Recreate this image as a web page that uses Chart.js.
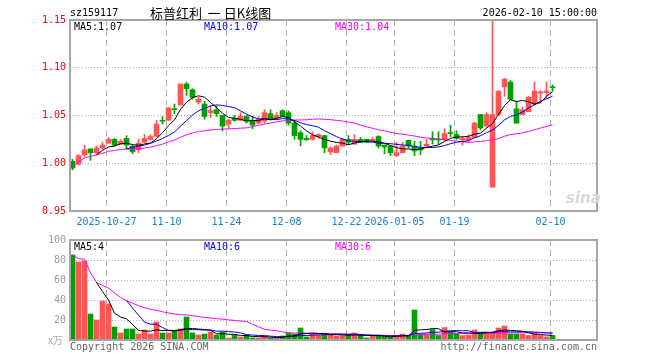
<!DOCTYPE html>
<html>
<head>
<meta charset="utf-8">
<script src="https://cdn.jsdelivr.net/npm/chart.js@4"></script>
<style>
  body { margin: 0; background: #fff; }
  #wrap { position: relative; width: 660px; height: 360px; overflow: hidden; }
  canvas { position: absolute; left: 0; top: 0; }
  .t { position: absolute; font: 10px "DejaVu Sans Mono", monospace; line-height: 12px; white-space: nowrap; }
</style>
</head>
<body>
<div id="wrap">
  <canvas id="kline" width="660" height="360"></canvas>
  <canvas id="vol" width="660" height="360"></canvas>
  <div class="t" style="left:70px;top:7px">sz159117</div>
  <div class="t" style="left:150px;top:5px;font:13px 'Noto Sans CJK SC';line-height:16px">标普红利&nbsp;&nbsp;一 日K线图</div>
  <div class="t" style="right:63px;top:7px">2026-02-10 15:00:00</div>
  <div class="t" style="left:74px;top:21px">MA5:1.07</div>
  <div class="t" style="left:204px;top:21px;color:#0000ff">MA10:1.07</div>
  <div class="t" style="left:335px;top:21px;color:#ff00ff">MA30:1.04</div>
  <div class="t" style="left:74px;top:241px">MA5:4</div>
  <div class="t" style="left:204px;top:241px;color:#0000ff">MA10:6</div>
  <div class="t" style="left:335px;top:241px;color:#ff00ff">MA30:6</div>
  <div class="t" style="left:48px;top:334px;color:#aaa;font-family:'Noto Sans CJK SC'">x万</div>
  <div class="t" style="left:70px;top:341px;color:#666">Copyright 2026 SINA.COM</div>
  <div class="t" style="right:63px;top:341px;color:#666">http://finance.sina.com.cn</div>
  <div class="t" style="left:566px;top:189px;color:#d8d8d8;font:italic bold 15px 'DejaVu Sans'">sina</div>
</div>
<script>
// daily bars, first bar = listing day
const opens  = [1.002,0.999,1.009,1.015,1.011,1.016,1.021,1.025,1.020,1.026,
                1.018,1.014,1.022,1.025,1.028,1.045,1.045,1.057,1.061,1.083,
                1.077,1.064,1.062,1.053,1.056,1.050,1.041,1.047,1.045,1.049,
                1.045,1.042,1.044,1.052,1.047,1.055,1.053,1.042,1.032,1.026,
                1.025,1.028,1.029,1.012,1.011,1.018,1.025,1.020,1.025,1.025,
                1.024,1.028,1.019,1.018,1.008,1.011,1.024,1.018,1.016,1.018,
                1.026,1.025,1.025,1.032,1.030,1.0245,1.0245,1.027,1.051,1.039,
                0.975,1.051,1.080,1.085,1.057,1.051,1.054,1.062,1.0734,1.074,
                1.080];
const highs  = [1.004,1.009,1.019,1.015,1.018,1.022,1.027,1.026,1.025,1.029,
                1.019,1.025,1.030,1.030,1.045,1.049,1.058,1.062,1.083,1.085,
                1.078,1.069,1.065,1.060,1.060,1.050,1.046,1.050,1.053,1.050,
                1.049,1.049,1.056,1.056,1.053,1.056,1.055,1.045,1.034,1.029,
                1.033,1.031,1.029,1.017,1.019,1.026,1.029,1.030,1.027,1.025,
                1.027,1.029,1.019,1.018,1.022,1.022,1.024,1.023,1.023,1.025,
                1.033,1.033,1.036,1.040,1.034,1.028,1.030,1.043,1.051,1.053,
                1.150,1.076,1.089,1.087,1.065,1.059,1.070,1.085,1.076,1.085,
                1.082];
const lows   = [0.993,0.998,1.007,1.003,1.010,1.015,1.021,1.018,1.020,1.015,
                1.010,1.011,1.022,1.024,1.028,1.041,1.045,1.052,1.061,1.071,
                1.067,1.062,1.046,1.048,1.049,1.034,1.036,1.044,1.045,1.042,
                1.036,1.041,1.042,1.045,1.046,1.049,1.040,1.025,1.018,1.024,
                1.024,1.026,1.011,1.009,1.011,1.018,1.020,1.020,1.022,1.022,
                1.023,1.016,1.010,1.008,1.007,1.011,1.016,1.008,1.009,1.017,
                1.020,1.020,1.024,1.028,1.025,1.019,1.023,1.027,1.035,1.038,
                0.975,1.050,1.070,1.066,1.042,1.051,1.054,1.061,1.063,1.068,
                1.0755];
const closes = [0.995,1.008,1.014,1.011,1.016,1.019,1.025,1.019,1.023,1.019,
                1.012,1.021,1.026,1.028,1.041,1.044,1.058,1.056,1.083,1.078,
                1.069,1.067,1.049,1.055,1.052,1.039,1.045,1.045,1.049,1.044,
                1.040,1.046,1.053,1.046,1.050,1.049,1.042,1.029,1.025,1.0245,
                1.029,1.030,1.016,1.016,1.018,1.025,1.022,1.025,1.022,1.022,
                1.025,1.018,1.017,1.011,1.011,1.018,1.018,1.013,1.014,1.020,
                1.0245,1.0244,1.031,1.031,1.026,1.026,1.027,1.042,1.037,1.051,
                1.051,1.0755,1.088,1.067,1.042,1.056,1.069,1.0755,1.0748,1.0755,
                1.079];
// volume, x万
const volumes = [85,78,79,26,20,39,36,13,7,11,
                 11,6,10,6,18,7,7,9,11,23,
                 7,5,6,8,5,8,2,5,3,5,
                 2,2,4,2,2,4,7,6,12,3,
                 6.5,5,6.5,5,4,4,5,7,5,2,
                 4,4,3,3,4.5,6,4.5,30,6,6,
                 10.5,4.5,12.5,8,6,4.5,5,10,8,8,
                 8,12,14,6,6,6,4.5,6.5,4.5,3,
                 4.5];

const gridIdx = [6, 16, 26, 36, 46, 54, 64, 80];
const dateLabels = ['2025-10-27', '11-10', '11-24', '12-08', '12-22', '2026-01-05', '01-19', '02-10'];
const priceTicks = [0.95, 1.00, 1.05, 1.10, 1.15];
const volTicks = [0, 20, 40, 60, 80, 100];

const UP = '#ff5555', DOWN = '#00a000';
const MONO = { family: 'DejaVu Sans Mono', size: 10 };
const idx = closes.map((_, i) => i);
const colors = idx.map(i => closes[i] >= opens[i] ? UP : DOWN);

function ma(src, n, partial) {
  return src.map((_, i) => {
    if (i < n - 1 && !partial) return null;
    const s = src.slice(Math.max(0, i - n + 1), i + 1);
    return s.reduce((a, b) => a + b, 0) / s.length;
  });
}
function pts(arr) {
  return arr.map((v, i) => ({ x: i, y: v })).filter(p => p.y !== null);
}
function line(arr, color) {
  return { type: 'line', data: pts(arr), borderColor: color, borderWidth: 1,
           pointRadius: 0, tension: 0, order: 1 };
}

const boxPlugin = {
  id: 'box',
  afterDraw(chart) {
    const a = chart.chartArea, c = chart.ctx;
    c.save();
    c.strokeStyle = '#a6a6a6';
    c.lineWidth = 2;
    c.strokeRect(a.left, a.top, a.right - a.left, a.bottom - a.top);
    c.restore();
  }
};

function xScale(showLabels) {
  return {
    type: 'linear', min: -5 / 12, max: 87 + 5 / 12, offset: false,
    afterBuildTicks: s => { s.ticks = gridIdx.map(v => ({ value: v - 1 / 3 })); },
    afterFit: s => { s.height = showLabels ? 29 : 0; },
    grid: { color: '#b4b4b4', drawTicks: false, offset: false },
    border: { display: false, dash: [6, 4] },
    ticks: { display: showLabels, autoSkip: false, maxRotation: 0, padding: 5,
             color: '#1680cc', font: MONO, callback: (v, i) => dateLabels[i] }
  };
}

Chart.defaults.animation = false;

new Chart(document.getElementById('kline'), {
  type: 'bar',
  data: {
    datasets: [
      { data: idx.map(i => ({ x: i, y: [lows[i], highs[i]] })), backgroundColor: colors,
        barThickness: 1, grouped: false, order: 3 },
      { data: idx.map(i => ({ x: i, y: [opens[i], closes[i]] })), backgroundColor: colors,
        barThickness: 5, minBarLength: 1, grouped: false, order: 2 },
      line(ma(closes, 5), '#000000'),
      line(ma(closes, 10), '#0000ff'),
      line(ma(closes, 30, true), '#ff00ff')
    ]
  },
  options: {
    responsive: false,
    layout: { padding: { left: 0, right: 63, top: 20, bottom: 120 } },
    plugins: { legend: { display: false }, tooltip: { enabled: false } },
    scales: {
      x: xScale(true),
      y: {
        min: 0.95, max: 1.15,
        afterBuildTicks: s => { s.ticks = priceTicks.map(v => ({ value: v })); },
        afterFit: s => { s.width = 70; },
        grid: { drawTicks: false,
                color: c => (c.tick && (c.tick.value === 0.95 || c.tick.value === 1.15)) ? 'rgba(0,0,0,0)' : '#b4b4b4' },
        border: { display: false, dash: [1, 2] },
        ticks: { padding: 4, color: '#ff0000', font: MONO, callback: v => v.toFixed(2) }
      }
    }
  },
  plugins: [boxPlugin]
});

new Chart(document.getElementById('vol'), {
  type: 'bar',
  data: {
    datasets: [
      { data: idx.map(i => ({ x: i, y: volumes[i] })), backgroundColor: colors,
        barThickness: 5, grouped: false, order: 2 },
      line(ma(volumes, 5), '#000000'),
      line(ma(volumes, 10), '#0000ff'),
      line(ma(volumes, 30, true), '#ff00ff')
    ]
  },
  options: {
    responsive: false,
    layout: { padding: { left: 0, right: 63, top: 240, bottom: 20 } },
    plugins: { legend: { display: false }, tooltip: { enabled: false } },
    scales: {
      x: xScale(false),
      y: {
        min: 0, max: 100,
        afterBuildTicks: s => { s.ticks = volTicks.map(v => ({ value: v })); },
        afterFit: s => { s.width = 70; },
        grid: { drawTicks: false,
                color: c => (c.tick && (c.tick.value === 0 || c.tick.value === 100)) ? 'rgba(0,0,0,0)' : '#b4b4b4' },
        border: { display: false, dash: [1, 2] },
        ticks: { padding: 4, color: '#999999', font: MONO, callback: v => v === 0 ? '' : String(v) }
      }
    }
  },
  plugins: [boxPlugin]
});
</script>
</body>
</html>
